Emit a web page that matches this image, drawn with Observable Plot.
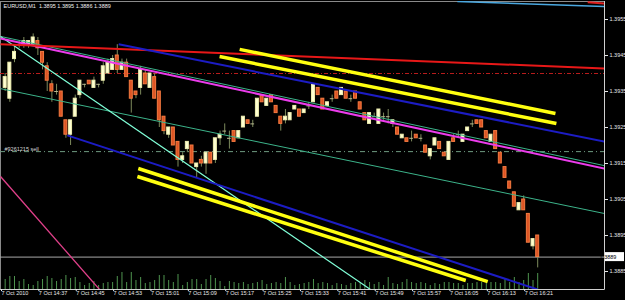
<!DOCTYPE html>
<html><head><meta charset="utf-8">
<script src="https://cdn.jsdelivr.net/npm/d3@7"></script>
<script src="https://cdn.jsdelivr.net/npm/@observablehq/plot@0.6"></script>
<style>
html,body{margin:0;padding:0;background:#000;}
</style></head><body><div id="chart"></div>
<script>
// ---- data (EURUSD M1, 7 Oct 2010, minute 0 = 14:30) ----
const symbol = "EURUSD,M1";
const open = [1.3936,1.3933,1.3944,1.3948,1.3948,1.3948,1.3948,1.3949,1.3946,1.3942,
1.3937,1.3935,1.3935,1.3927,1.3923,1.3928,1.3934,1.3937,1.3938,1.3936,
1.3937,1.3938,1.3940,1.3941,1.3945,1.3941,1.3943,1.3938,1.3935,1.3936,
1.3940,1.3936,1.3939,1.3935,1.3928,1.3923,1.3925,1.3921,1.3916,1.3919,
1.3920,1.3914,1.3916,1.3915,1.3918,1.3916,1.3922,1.3924,1.3922,1.3924,
1.3922,1.3925,1.3927,1.3926,1.3928,1.3934,1.3931,1.3934,1.3931,1.3928,
1.3927,1.3927,1.3930,1.3930,1.3929,1.3931,1.3932,1.3936,1.3933,1.3931,
1.3933,1.3935,1.3934,1.3935,1.3933,1.3935,1.3932,1.3929,1.3926,1.3928,
1.3926,1.3928,1.3928,1.3926,1.3925,1.3922,1.3922,1.3922,1.3923,1.3922,
1.3920,1.3917,1.3920,1.3921,1.3918,1.3916,1.3922,1.3923,1.3921,1.3924,
1.3926,1.3927,1.3927,1.3924,1.3921,1.3924,1.3918,1.3914,1.3910,1.3907,
1.3902,1.3905,1.3901,1.3892,1.3895];
const high = [1.3940,1.3943,1.3948,1.3949,1.3950,1.3949,1.3951,1.3950,1.3946,1.3943,
1.3938,1.3937,1.3935,1.3927,1.3927,1.3934,1.3938,1.3937,1.3938,1.3939,
1.3937,1.3943,1.3944,1.3945,1.3948,1.3944,1.3944,1.3938,1.3935,1.3942,
1.3941,1.3940,1.3940,1.3935,1.3928,1.3925,1.3925,1.3921,1.3918,1.3921,
1.3920,1.3915,1.3917,1.3918,1.3918,1.3922,1.3924,1.3926,1.3924,1.3924,
1.3924,1.3928,1.3927,1.3927,1.3933,1.3934,1.3933,1.3934,1.3931,1.3928,
1.3930,1.3929,1.3931,1.3930,1.3930,1.3932,1.3937,1.3936,1.3933,1.3932,
1.3934,1.3935,1.3936,1.3935,1.3934,1.3935,1.3932,1.3929,1.3929,1.3929,
1.3930,1.3929,1.3930,1.3927,1.3925,1.3923,1.3922,1.3924,1.3923,1.3923,
1.3920,1.3919,1.3922,1.3921,1.3918,1.3921,1.3923,1.3924,1.3923,1.3925,
1.3927,1.3927,1.3927,1.3924,1.3923,1.3924,1.3918,1.3914,1.3910,1.3907,
1.3904,1.3906,1.3901,1.3894,1.3895];
const low = [1.3935,1.3932,1.3943,1.3947,1.3947,1.3947,1.3948,1.3945,1.3941,1.3935,
1.3932,1.3934,1.3928,1.3922,1.3920,1.3928,1.3933,1.3936,1.3937,1.3936,
1.3936,1.3937,1.3940,1.3941,1.3940,1.3941,1.3939,1.3929,1.3933,1.3934,
1.3937,1.3936,1.3933,1.3925,1.3923,1.3922,1.3920,1.3914,1.3915,1.3918,
1.3915,1.3911,1.3914,1.3912,1.3915,1.3915,1.3920,1.3923,1.3919,1.3921,
1.3922,1.3925,1.3926,1.3925,1.3928,1.3932,1.3931,1.3932,1.3929,1.3924,
1.3926,1.3927,1.3930,1.3928,1.3929,1.3930,1.3932,1.3934,1.3930,1.3931,
1.3932,1.3933,1.3934,1.3933,1.3932,1.3933,1.3930,1.3927,1.3926,1.3928,
1.3926,1.3927,1.3926,1.3925,1.3923,1.3922,1.3921,1.3921,1.3922,1.3921,
1.3918,1.3916,1.3920,1.3919,1.3917,1.3916,1.3921,1.3922,1.3921,1.3924,
1.3925,1.3926,1.3925,1.3922,1.3921,1.3919,1.3915,1.3911,1.3908,1.3903,
1.3902,1.3902,1.3893,1.3891,1.3886];
const close = [1.3939,1.3943,1.3946,1.3948,1.3949,1.3949,1.3950,1.3947,1.3943,1.3938,
1.3935,1.3935,1.3928,1.3923,1.3927,1.3933,1.3938,1.3937,1.3937,1.3938,
1.3937,1.3942,1.3943,1.3944,1.3941,1.3943,1.3939,1.3933,1.3934,1.3941,
1.3937,1.3940,1.3933,1.3927,1.3924,1.3925,1.3920,1.3916,1.3917,1.3921,
1.3915,1.3915,1.3915,1.3918,1.3915,1.3922,1.3923,1.3924,1.3922,1.3921,
1.3924,1.3928,1.3926,1.3926,1.3933,1.3932,1.3933,1.3932,1.3929,1.3926,
1.3928,1.3929,1.3931,1.3928,1.3930,1.3931,1.3937,1.3934,1.3930,1.3932,
1.3933,1.3933,1.3936,1.3933,1.3933,1.3933,1.3930,1.3927,1.3929,1.3928,
1.3930,1.3928,1.3928,1.3927,1.3923,1.3923,1.3921,1.3922,1.3922,1.3922,
1.3918,1.3919,1.3922,1.3919,1.3917,1.3921,1.3921,1.3923,1.3923,1.3925,
1.3926,1.3926,1.3925,1.3922,1.3923,1.3919,1.3915,1.3911,1.3908,1.3903,
1.3904,1.3902,1.3893,1.3894,1.3889];
const volume = [20,26,26,16,20,10,8,16,20,26, 22,16,20,28,22,24,14,8,12,16,
8,12,14,14,26,34,14,34,18,24, 12,14,18,28,28,18,14,30,8,14,
20,20,10,20,28,22,16,6,16,14, 12,14,10,12,14,18,10,12,14,12,
24,14,8,10,12,14,20,12,14,12, 8,12,10,8,12,14,12,18,14,10,
14,8,24,12,10,14,20,14,12,14, 12,8,12,10,14,14,12,12,8,12,
12,14,14,12,14,14,12,20,14,24, 14,18,32,18,32];

const timeTickMinutes = [-1,7,15,23,31,39,47,55,63,71,79,87,95,103,111];
const timeTickLabels = ["7 Oct 2010","7 Oct 14:37","7 Oct 14:45","7 Oct 14:53","7 Oct 15:01",
  "7 Oct 15:09","7 Oct 15:17","7 Oct 15:25","7 Oct 15:33","7 Oct 15:41","7 Oct 15:49",
  "7 Oct 15:57","7 Oct 16:05","7 Oct 16:13","7 Oct 16:21"];
const priceTicks = [1.3955,1.3945,1.3935,1.3925,1.3915,1.3905,1.3895,1.3885];

const orderLabel = "#9261215 sell";
const orderPrice = 1.39183;
const levelPrice = 1.3940;

// chart objects: [minute, price] endpoints
const redTrend    = [[-1, 1.39481], [128.3, 1.39414]];
const magentaLine = [[-1, 1.39497], [128.3, 1.39136]];
const tealUpper   = [[-1, 1.39503], [128.3, 1.39144]];
const tealLower   = [[-1, 1.39358], [128.3, 1.39011]];
const aquaSteep   = [[-1, 1.39503], [78.2, 1.38800]];
const blueUpper   = [[24.3, 1.39481], [128.3, 1.39211]];
const blueLower   = [[13.3, 1.39228], [114.0, 1.38800]];
const yellowA     = [[50.2, 1.39467], [117.8, 1.39289]];
const yellowB     = [[45.9, 1.39447], [118.0, 1.39261]];
const yellowC     = [[28.5, 1.39136], [103.3, 1.38822]];
const yellowD     = [[28.3, 1.39114], [98.6, 1.38825]];
const pinkSteep   = [[-1, 1.39114], [20.2, 1.38800]];
const skyTop      = [[96.8, 1.39600], [128.3, 1.39586]];
const redTop      = [[124.7, 1.39598], [128.3, 1.39594]];

const xDomain = [-1, 128.3];
const yDomain = [1.3880, 1.3960];

// ---- build ----
const candles = open.map((o, i) => ({i, o, h: high[i], l: low[i], c: close[i], v: volume[i]}));
const bull = candles.filter(d => d.c > d.o);
const bear = candles.filter(d => d.c < d.o);
const doji = candles.filter(d => d.c === d.o);
const volUnit = (yDomain[1] - yDomain[0]) / 288 * 0.5;
const labelMap = new Map(timeTickMinutes.map((m, k) => [m, timeTickLabels[k]]));
const last = candles[candles.length - 1];
const fmt = d3.format(".4f");
const title = `${symbol}\u00a0\u00a0${fmt(last.o)} ${fmt(last.h)} ${fmt(last.l)} ${fmt(last.c)}`;

const seg = p => [{x1: p[0][0], y1: p[0][1], x2: p[1][0], y2: p[1][1]}];
const link = (p, o) => Plot.link(seg(p), {x1: "x1", y1: "y1", x2: "x2", y2: "y2", clip: true, ...o});

const wickColor = "#7d8a5c";
const FS = 5.5;

const chart = Plot.plot({
  width: 625, height: 300,
  marginLeft: 0, marginRight: 21, marginTop: 1, marginBottom: 11,
  style: {background: "#000", color: "#e8e8e8", fontFamily: "'Liberation Sans', Arial, sans-serif", fontSize: "5.5px", overflow: "visible"},
  x: {type: "linear", domain: xDomain},
  y: {type: "linear", domain: yDomain},
  marks: [
    Plot.frame({stroke: "#8a8a8a"}),
    Plot.ruleX(candles, {x: "i", y1: d => yDomain[0], y2: d => yDomain[0] + d.v * volUnit, stroke: "#4f944f", strokeWidth: 1}),
    Plot.ruleY([levelPrice], {stroke: "#b81c1c", strokeDasharray: "4,2,1,2"}),
    Plot.ruleY([orderPrice], {stroke: "#6f9a80", strokeDasharray: "5,3,1,3"}),
    Plot.ruleY([last.c], {stroke: "#a8a8a8"}),
    Plot.ruleX(candles, {x: "i", y1: "l", y2: "h", stroke: wickColor}),
    Plot.rect(bull, {x1: d => d.i - 0.32, x2: d => d.i + 0.32, y1: "o", y2: "c", fill: "#ffffd2", stroke: "#eeeeb0"}),
    Plot.rect(bear, {x1: d => d.i - 0.32, x2: d => d.i + 0.32, y1: "o", y2: "c", fill: "#dc5424", stroke: "#f57a40"}),
    Plot.ruleY(doji, {y: "o", x1: d => d.i - 0.4, x2: d => d.i + 0.4, stroke: "#b8b890"}),
    link(tealUpper, {stroke: "#3cb38a", strokeWidth: 1}),
    link(tealLower, {stroke: "#3cb38a", strokeWidth: 1}),
    link(aquaSteep, {stroke: "#80ffd8", strokeWidth: 1.2}),
    link(pinkSteep, {stroke: "#e0408a", strokeWidth: 1.3}),
    link(magentaLine, {stroke: "#ec3cec", strokeWidth: 2}),
    link(redTrend, {stroke: "#e81818", strokeWidth: 2}),
    link(blueUpper, {stroke: "#1c1cc4", strokeWidth: 2}),
    link(blueLower, {stroke: "#1c1cc4", strokeWidth: 2}),
    link(yellowA, {stroke: "#ffff10", strokeWidth: 3.5}),
    link(yellowB, {stroke: "#ffff10", strokeWidth: 3.5}),
    link(yellowC, {stroke: "#ffff10", strokeWidth: 3.5}),
    link(yellowD, {stroke: "#ffff10", strokeWidth: 3.5}),
    link(skyTop, {stroke: "#4aa8e0", strokeWidth: 1.5}),
    link(redTop, {stroke: "#e02020", strokeWidth: 2}),
    Plot.ruleX([xDomain[1]], {stroke: "#d0d0d0"}),
    Plot.ruleY([yDomain[0]], {stroke: "#d0d0d0"}),
    Plot.axisY(priceTicks, {anchor: "right", tickSize: 3, tickPadding: 2, tickFormat: fmt, fontSize: FS, color: "#e8e8e8"}),
    Plot.axisX(timeTickMinutes, {anchor: "bottom", tickSize: 2, tickPadding: 0, tickFormat: d => labelMap.get(d), textAnchor: "start", dx: 1, fontSize: FS, color: "#e8e8e8"}),
    Plot.text([title], {frameAnchor: "top-left", dx: 3, dy: 2.5, lineAnchor: "top", fill: "#f0f0f0", fontSize: FS}),
    Plot.text([orderLabel], {x: d => xDomain[0], y: d => orderPrice, textAnchor: "start", lineAnchor: "bottom", dx: 4, dy: -0.5, fill: "#d8d8d8", fontSize: FS})
  ]
});

// current price label box on the price axis
const ys = chart.scale("y"), xs = chart.scale("x");
const py = ys.apply(last.c), px = xs.apply(xDomain[1]);
const svg = d3.select(chart);
svg.append("rect").attr("x", px + 1).attr("y", py - 4.5).attr("width", 19).attr("height", 9).attr("fill", "#fff");
svg.append("text").attr("x", px + 4).attr("y", py).attr("dy", "0.35em").attr("fill", "#000")
  .attr("font-size", FS).attr("font-family", "'Liberation Sans', Arial, sans-serif").text(fmt(last.c));

document.getElementById("chart").appendChild(chart);
</script></body></html>
